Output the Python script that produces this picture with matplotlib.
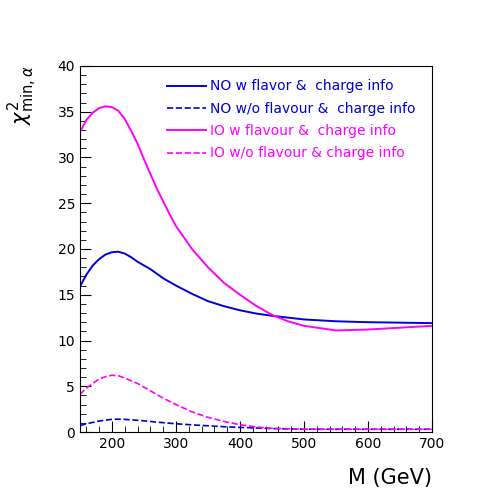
import numpy as np
import matplotlib
matplotlib.use('Agg')
import matplotlib.pyplot as plt
from matplotlib.ticker import MultipleLocator

mass = [150, 160, 170, 180, 190, 200, 210, 220, 230, 240, 250, 260, 270, 280, 290, 300, 325, 350, 375, 400,
        425, 450, 475, 500, 550, 600, 650, 700]
no_w = [15.9, 17.2, 18.2, 18.9, 19.4, 19.65, 19.7, 19.5, 19.1, 18.6, 18.2, 17.8, 17.3, 16.8, 16.4, 16.0,
        15.1, 14.3, 13.75, 13.3, 12.95, 12.7, 12.5, 12.3, 12.1, 12.0, 11.95, 11.9]
io_w = [32.8, 34.1, 34.9, 35.4, 35.6, 35.5, 35.1, 34.2, 32.9, 31.5, 29.8, 28.2, 26.6, 25.2, 23.8, 22.5,
        20.0, 18.0, 16.3, 15.0, 13.8, 12.8, 12.1, 11.6, 11.1, 11.2, 11.4, 11.6]
io_wo = [4.1, 4.8, 5.3, 5.8, 6.05, 6.2, 6.15, 5.9, 5.6, 5.3, 4.9, 4.5, 4.1, 3.7, 3.35, 3.0,
         2.2, 1.6, 1.15, 0.8, 0.55, 0.4, 0.35, 0.3, 0.3, 0.3, 0.3, 0.3]
no_wo = [0.7, 0.9, 1.05, 1.2, 1.3, 1.38, 1.4, 1.38, 1.33, 1.28, 1.22, 1.15, 1.08, 1.02, 0.96, 0.9,
         0.78, 0.68, 0.58, 0.5, 0.44, 0.38, 0.34, 0.3, 0.3, 0.3, 0.3, 0.3]

labels = ['NO w flavor &  charge info', 'NO w/o flavour &  charge info',
          'IO w flavour &  charge info', 'IO w/o flavour & charge info']
blue, mag = '#0000dd', '#ff00ff'

fig = plt.figure(figsize=(4.98, 4.98), dpi=100)
ax = fig.add_axes([80/498, 66/498, 352/498, 366/498])
ax.plot(mass, no_w, color=blue, lw=1.4, label=labels[0])
ax.plot(mass, no_wo, color=blue, lw=1.2, ls='--', label=labels[1])
ax.plot(mass, io_w, color=mag, lw=1.4, label=labels[2])
ax.plot(mass, io_wo, color=mag, lw=1.2, ls='--', label=labels[3])
ax.set_xlim(150, 700)
ax.set_ylim(0, 40)
ax.xaxis.set_major_locator(MultipleLocator(100))
ax.xaxis.set_minor_locator(MultipleLocator(20))
ax.yaxis.set_major_locator(MultipleLocator(5))
ax.yaxis.set_minor_locator(MultipleLocator(1))
ax.tick_params(which='both', direction='in', labelsize=10)
ax.tick_params(which='major', length=8)
ax.tick_params(which='minor', length=4)

leg = ax.legend(loc='upper right', frameon=False, fontsize=10, handlelength=2.8,
                handletextpad=0.3, labelspacing=0.6, borderaxespad=0.3,
                bbox_to_anchor=(0.98, 0.99))
for t, c in zip(leg.get_texts(), [blue, blue, mag, mag]):
    t.set_color(c)

fig.text(432/498, 1 - 478/498, 'M (GeV)', ha='right', va='center', fontsize=15)
fig.text(22/498, 1 - 95/498, r'$\chi^2_{\mathrm{min},\alpha}$', rotation=90,
         ha='center', va='center', fontsize=15)
fig.savefig('out.png', dpi=100)
